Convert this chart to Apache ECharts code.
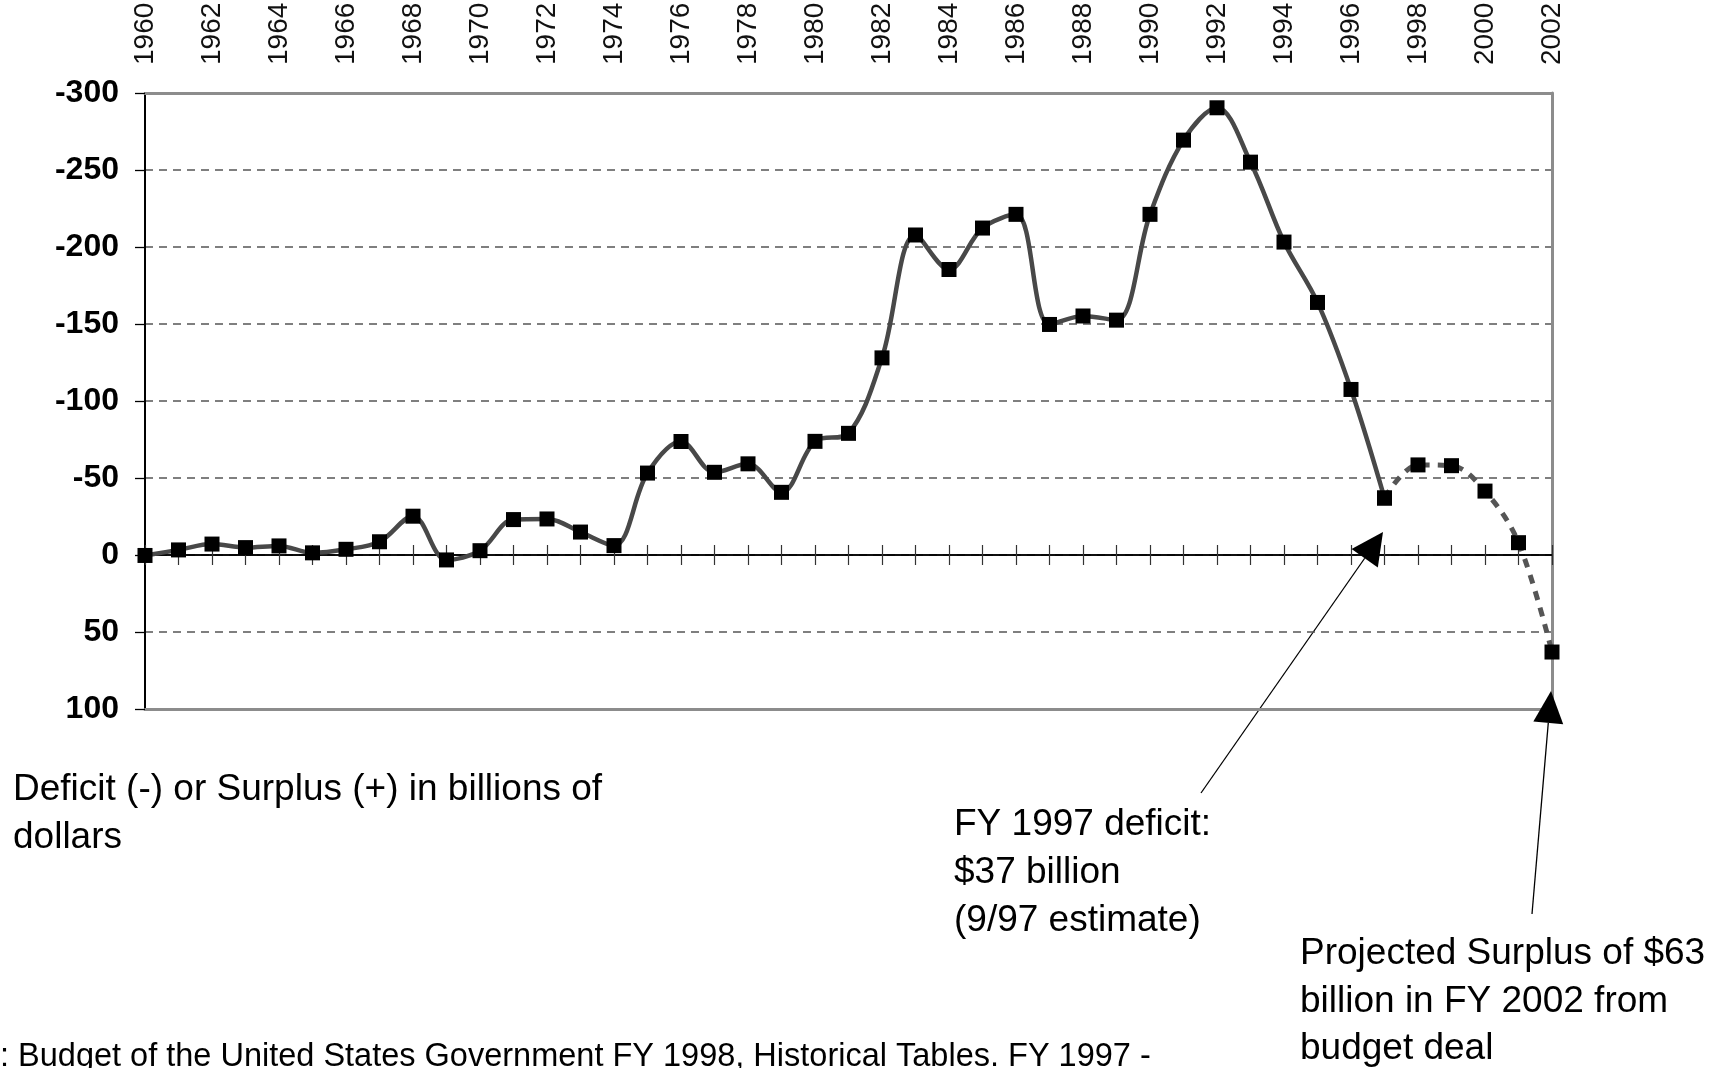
<!DOCTYPE html>
<html>
<head>
<meta charset="utf-8">
<title>Federal deficit 1960-2002</title>
<script src="https://cdn.jsdelivr.net/npm/echarts@6/dist/echarts.min.js"></script>
<style>
  html, body { margin: 0; padding: 0; background: #fff; }
  #chart { width: 1731px; height: 1068px; }
</style>
</head>
<body>
<div id="chart"></div>
<script>
// fiscal years on the category axis
var years = [];
for (var yr = 1960; yr <= 2002; yr++) years.push(String(yr));

// deficit (-) / surplus (+), billions of dollars, FY1960 - FY1997
var actual = [
  0.3, -3.3, -7.1, -4.8, -5.9, -1.4, -3.7, -8.6, -25.2, 3.2,
  -2.8, -23.0, -23.4, -14.9, -6.1, -53.2, -73.7, -53.7, -59.2, -40.7,
  -73.8, -79.0, -128.0, -207.8, -185.4, -212.3, -221.2, -149.7, -155.2, -152.5,
  -221.2, -269.4, -290.4, -255.1, -203.2, -164.0, -107.5, -37.0
];
// projection FY1997 - FY2002 (budget deal)
var projected = [-37.0, -58.5, -58.0, -41.5, -8.0, 63.0];

var yTicks = { min: -300, max: 100, step: 50 };

var FONT = '"Liberation Sans", Arial, sans-serif';

// pad the projection so it starts at 1997
var projSeries = [];
for (var i = 0; i < actual.length - 1; i++) projSeries.push(null);
projSeries = projSeries.concat(projected);

var chart = echarts.init(document.getElementById('chart'));

// simple arrow: line from tail to tip with a filled head
function arrow(tail, tip, len, wid) {
  var dx = tip[0] - tail[0], dy = tip[1] - tail[1];
  var d = Math.sqrt(dx * dx + dy * dy);
  var ux = dx / d, uy = dy / d;
  var bx = tip[0] - ux * len, by = tip[1] - uy * len;
  var px = -uy * wid / 2, py = ux * wid / 2;
  return [
    { type: 'polyline', silent: true, shape: { points: [tail, [bx, by]] },
      style: { stroke: '#000', lineWidth: 1.3, fill: null } },
    { type: 'polygon', silent: true, z: 10,
      shape: { points: [tip, [bx + px, by + py], [bx - px, by - py]] },
      style: { fill: '#000' } }
  ];
}

function textLines(x, y0, lines, size, step) {
  return lines.map(function (t, k) {
    return {
      type: 'text', silent: true, x: x, y: y0 + k * step,
      style: { text: t, font: size + 'px ' + FONT, fill: '#000', verticalAlign: 'middle', align: 'left' }
    };
  });
}

var catAxisBase = {
  type: 'category',
  data: years,
  boundaryGap: false,
  splitLine: { show: false }
};

var option = {
  animation: false,
  backgroundColor: '#fff',
  grid: { left: 145, right: 179, top: 93, bottom: 359, show: false, outerBoundsMode: 'none', containLabel: false },
  xAxis: [
    // year labels along the top, also draws the top frame
    Object.assign({}, catAxisBase, {
      position: 'top',
      axisLine: { onZero: false, lineStyle: { color: '#8c8c8c', width: 3 } },
      axisTick: { show: false },
      axisLabel: { rotate: -90, interval: 1, margin: 28, fontFamily: FONT, fontSize: 28, color: '#111' }
    }),
    // zero line, ticks below
    Object.assign({}, catAxisBase, {
      position: 'bottom',
      axisLine: { onZero: true, lineStyle: { color: '#000', width: 1.5 } },
      axisTick: { interval: 0, length: 10, lineStyle: { color: '#333', width: 1.2 } },
      axisLabel: { show: false }
    }),
    // zero line, ticks above
    Object.assign({}, catAxisBase, {
      position: 'bottom',
      axisLine: { onZero: true, lineStyle: { color: '#000', width: 1.5 } },
      axisTick: { inside: true, interval: 0, length: 10, lineStyle: { color: '#333', width: 1.2 } },
      axisLabel: { show: false }
    }),
    // bottom frame
    Object.assign({}, catAxisBase, {
      position: 'bottom',
      axisLine: { onZero: false, lineStyle: { color: '#8c8c8c', width: 3 } },
      axisTick: { show: false },
      axisLabel: { show: false }
    })
  ],
  yAxis: [
    {
      type: 'value',
      inverse: true,
      min: yTicks.min, max: yTicks.max, interval: yTicks.step,
      position: 'left',
      axisLine: { show: true, onZero: false, lineStyle: { color: '#000', width: 2 } },
      axisTick: { show: true, length: 10, lineStyle: { color: '#000', width: 1.3 } },
      axisLabel: { margin: 26, fontFamily: FONT, fontWeight: 'bold', fontSize: 32, color: '#000' },
      splitLine: { show: true, lineStyle: { color: '#555', width: 1.5, type: [8, 6] } }
    },
    {
      type: 'value',
      inverse: true,
      min: yTicks.min, max: yTicks.max, interval: yTicks.step,
      position: 'right',
      axisLine: { show: true, onZero: false, lineStyle: { color: '#8c8c8c', width: 3 } },
      axisTick: { show: false },
      axisLabel: { show: false },
      splitLine: { show: false }
    }
  ],
  series: [
    {
      name: 'Actual',
      type: 'line',
      data: actual,
      smooth: 0.35,
      symbol: 'rect',
      symbolSize: 15,
      showAllSymbol: true,
      lineStyle: { color: '#484848', width: 4.5 },
      itemStyle: { color: '#000' },
      z: 3
    },
    {
      name: 'Projected',
      type: 'line',
      data: projSeries,
      smooth: 0.35,
      symbol: 'rect',
      symbolSize: 15,
      showAllSymbol: true,
      clip: false,
      lineStyle: { color: '#555', width: 5, type: [9, 8] },
      itemStyle: { color: '#000' },
      z: 3
    }
  ],
  graphic: []
    .concat(textLines(13, 790, ['Deficit (-) or Surplus (+) in billions of', 'dollars'], 37, 48))
    .concat(textLines(954, 825, ['FY 1997 deficit:', '$37 billion', '(9/97 estimate)'], 37, 48))
    .concat(textLines(1300, 954, ['Projected Surplus of $63', 'billion in FY 2002 from', 'budget deal'], 37, 47.5))
    .concat(textLines(0, 1057, [': Budget of the United States Government FY 1998, Historical Tables. FY 1997 -'], 32.5, 0))
    .concat(arrow([1201, 793], [1383, 532], 32, 32))
    .concat(arrow([1532, 914], [1551, 691], 32, 30))
};

chart.setOption(option);
</script>
</body>
</html>
